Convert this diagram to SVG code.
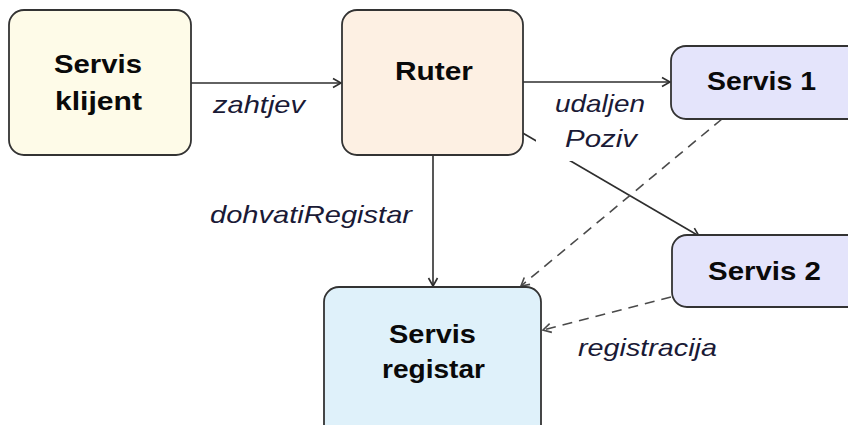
<svg xmlns="http://www.w3.org/2000/svg" width="848" height="425" viewBox="0 0 848 425">
<style>
.box{stroke:#333;stroke-width:1.8}
.nl{font-family:"Liberation Sans",Arial,sans-serif;font-weight:bold;font-size:26px;fill:#0a0a0a;text-anchor:start}
.el{font-family:"Liberation Sans",Arial,sans-serif;font-style:italic;font-size:24px;fill:#1a1a36}
.ln{fill:none;stroke:#2e2e2e;stroke-width:1.6}
.dash{fill:none;stroke:#4a4a4a;stroke-width:1.6;stroke-dasharray:10 7}
</style>
<defs>
<marker id="ah" markerWidth="12" markerHeight="12" refX="10" refY="6" orient="auto" markerUnits="userSpaceOnUse">
<path d="M2,1.5 L10,6 L2,10.5" fill="none" stroke="#2e2e2e" stroke-width="1.6"/>
</marker>
<marker id="ahd" markerWidth="12" markerHeight="12" refX="10" refY="6" orient="auto" markerUnits="userSpaceOnUse">
<path d="M2,1.5 L10,6 L2,10.5" fill="none" stroke="#4a4a4a" stroke-width="1.6"/>
</marker>
</defs>
<rect width="848" height="425" fill="#fff"/>
<g id="connectors">
<line class="ln" x1="191" y1="83" x2="341" y2="83" marker-end="url(#ah)"/>
<line class="ln" x1="523" y1="82" x2="670" y2="82" marker-end="url(#ah)"/>
<line class="ln" x1="433" y1="155" x2="433" y2="286" marker-end="url(#ah)"/>
<line class="ln" x1="521" y1="132" x2="699" y2="236" marker-end="url(#ah)"/>
<line class="dash" x1="722" y1="119" x2="521" y2="286" marker-end="url(#ahd)"/>
<line class="dash" x1="671" y1="297" x2="543" y2="330" marker-end="url(#ahd)"/>
<rect x="536" y="92" width="116" height="69" fill="#fff"/>
<text class="el" x="213" y="113" textLength="92" lengthAdjust="spacingAndGlyphs">zahtjev</text>
<text class="el" x="555" y="112" textLength="90" lengthAdjust="spacingAndGlyphs">udaljen</text>
<text class="el" x="565" y="147" textLength="72" lengthAdjust="spacingAndGlyphs">Poziv</text>
<text class="el" x="210" y="223" textLength="202" lengthAdjust="spacingAndGlyphs">dohvatiRegistar</text>
<text class="el" x="578" y="356" textLength="139" lengthAdjust="spacingAndGlyphs">registracija</text>
</g>
<g id="klijent">
<rect class="box" x="9" y="10" width="182" height="145" rx="15" fill="#fefbe8"/>
<text class="nl" x="54" y="73" textLength="88" lengthAdjust="spacingAndGlyphs">Servis</text>
<text class="nl" x="55" y="110" textLength="87" lengthAdjust="spacingAndGlyphs">klijent</text>
</g>
<g id="ruter">
<rect class="box" x="342" y="10" width="181" height="145" rx="15" fill="#fdf0e3"/>
<text class="nl" x="395" y="80" textLength="78" lengthAdjust="spacingAndGlyphs">Ruter</text>
</g>
<g id="servis1">
<rect class="box" x="671" y="46" width="200" height="73" rx="15" fill="#e4e4fb"/>
<text class="nl" x="707" y="90" textLength="109" lengthAdjust="spacingAndGlyphs">Servis 1</text>
</g>
<g id="servis2">
<rect class="box" x="672" y="235" width="200" height="72" rx="15" fill="#e4e4fb"/>
<text class="nl" x="708" y="280" textLength="113" lengthAdjust="spacingAndGlyphs">Servis 2</text>
</g>
<g id="registar">
<rect class="box" x="324" y="287" width="217" height="160" rx="15" fill="#dff1fa"/>
<text class="nl" x="389" y="343" textLength="87" lengthAdjust="spacingAndGlyphs">Servis</text>
<text class="nl" x="382" y="378" textLength="103" lengthAdjust="spacingAndGlyphs">registar</text>
</g>
</svg>
